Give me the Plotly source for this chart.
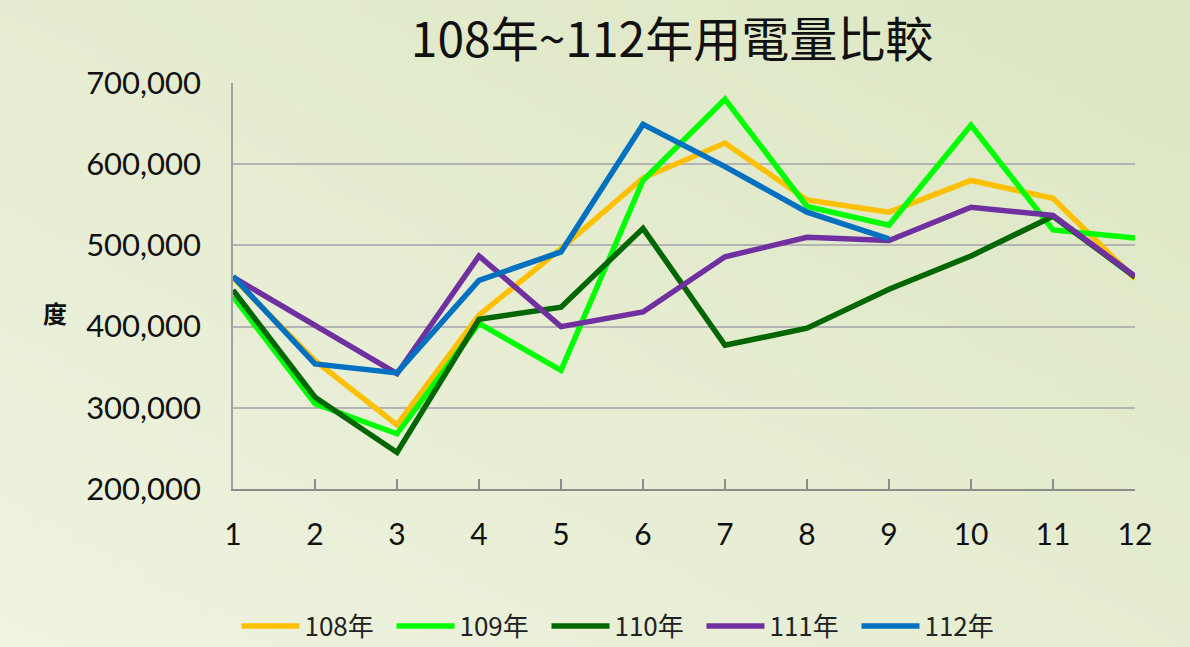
import zlib, struct, base64
import plotly.graph_objects as go

months = [1, 2, 3, 4, 5, 6, 7, 8, 9, 10, 11, 12]
y108 = [460000, 358000, 279000, 414000, 496000, 583000, 626000, 556000, 541000, 580000, 558000, 459000]
y109 = [437000, 305000, 268000, 404000, 346000, 580000, 680000, 548000, 525000, 648000, 519000, 509000]
y110 = [445000, 313000, 245000, 409000, 424000, 521000, 377000, 398000, 446000, 487000, 536000, 461000]
y111 = [461000, 402000, 342000, 487000, 400000, 418000, 486000, 510000, 506000, 547000, 537000, 462000]
y112 = [462000, 354000, 343000, 457000, 492000, 649000, 597000, 541000, 508000]
series_names = ["108年", "109年", "110年", "111年", "112年"]
series_colors = ["#FFC000", "#00FF00", "#006600", "#7030A0", "#0070C0"]
ytick_vals = [200000, 300000, 400000, 500000, 600000, 700000]
ytick_text = ["200,000", "300,000", "400,000", "500,000", "600,000", "700,000"]


def gradient_png(w, h, c_bl, c_tr):
    rows = b""
    for j in range(h):
        row = b"\x00"
        for i in range(w):
            t = (i / (w - 1) + (1 - j / (h - 1))) / 2.0
            px = bytes(int(round(c_bl[k] + (c_tr[k] - c_bl[k]) * t)) for k in range(3))
            row += px
        rows += row

    def chunk(tag, data):
        c = struct.pack(">I", len(data)) + tag + data
        return c + struct.pack(">I", zlib.crc32(tag + data) & 0xFFFFFFFF)

    png = b"\x89PNG\r\n\x1a\n"
    png += chunk(b"IHDR", struct.pack(">IIBBBBB", w, h, 8, 2, 0, 0, 0))
    png += chunk(b"IDAT", zlib.compress(rows, 9))
    png += chunk(b"IEND", b"")
    return "data:image/png;base64," + base64.b64encode(png).decode()


bg = gradient_png(120, 66, (239, 243, 224), (220, 230, 194))

fig = go.Figure()
all_y = [y108, y109, y110, y111, y112]
for name, color, ys in zip(series_names, series_colors, all_y):
    fig.add_trace(go.Scatter(
        x=months[:len(ys)], y=ys, mode="lines", name=name,
        line=dict(color=color, width=5.5), hoverinfo="x+y+name"))

font_fam = "Lato, 'Noto Sans CJK TC', sans-serif"
L, R, T, B = 233, 55, 83, 158
PW, PH = 1190 - L - R, 647 - T - B
fig.update_layout(
    width=1190, height=647,
    margin=dict(l=L, r=R, t=T, b=B),
    paper_bgcolor="#E6ECD0",
    plot_bgcolor="rgba(0,0,0,0)",
    images=[dict(source=bg, xref="paper", yref="paper", x=-L / PW, y=1 + T / PH,
                 sizex=1190 / PW, sizey=647 / PH, xanchor="left", yanchor="top",
                 sizing="stretch", layer="below")],
    title=dict(text="108年~112年用電量比較", x=(672 - L) / PW, xref="paper", y=1 - 40 / 647,
               yanchor="middle", xanchor="center",
               font=dict(family="'Noto Sans CJK TC', Lato, sans-serif", size=48, color="#111")),
    xaxis=dict(range=[1, 12], tickvals=months, ticktext=[str(m) for m in months],
               showgrid=False, showline=True, linecolor="#8c8c8c", linewidth=2,
               ticks="inside", ticklen=10, tickwidth=2, tickcolor="#8c8c8c",
               ticklabelstandoff=18,
               tickfont=dict(family=font_fam, size=30, color="#111"), zeroline=False),
    yaxis=dict(range=[200000, 700000], tickvals=ytick_vals, ticktext=ytick_text,
               showgrid=True, gridcolor="#b4b4b4", gridwidth=1.5,
               showline=True, linecolor="#a0a0a0", linewidth=1.5,
               ticks="", ticklabelstandoff=24,
               tickfont=dict(family=font_fam, size=31, color="#111"), zeroline=False),
    legend=dict(orientation="h", xref="paper", x=(624 - L) / PW, xanchor="center",
                yref="container", y=(647 - 626) / 647, yanchor="middle",
                font=dict(family="'Noto Sans CJK TC', sans-serif", size=26, color="#222"),
                bgcolor="rgba(0,0,0,0)", itemwidth=58, entrywidth=82, entrywidthmode="pixels",
                tracegroupgap=0),
    annotations=[dict(text="<b>度</b>", xref="paper", yref="paper",
                      x=(55 - L) / PW, y=(489 - 312) / PH,
                      xanchor="center", yanchor="middle", showarrow=False,
                      font=dict(family="'Noto Sans CJK TC', sans-serif", size=24, color="#111"))],
)
fig.write_html("out.html", config={"displayModeBar": False},
               post_script="document.body.style.margin='0';")
